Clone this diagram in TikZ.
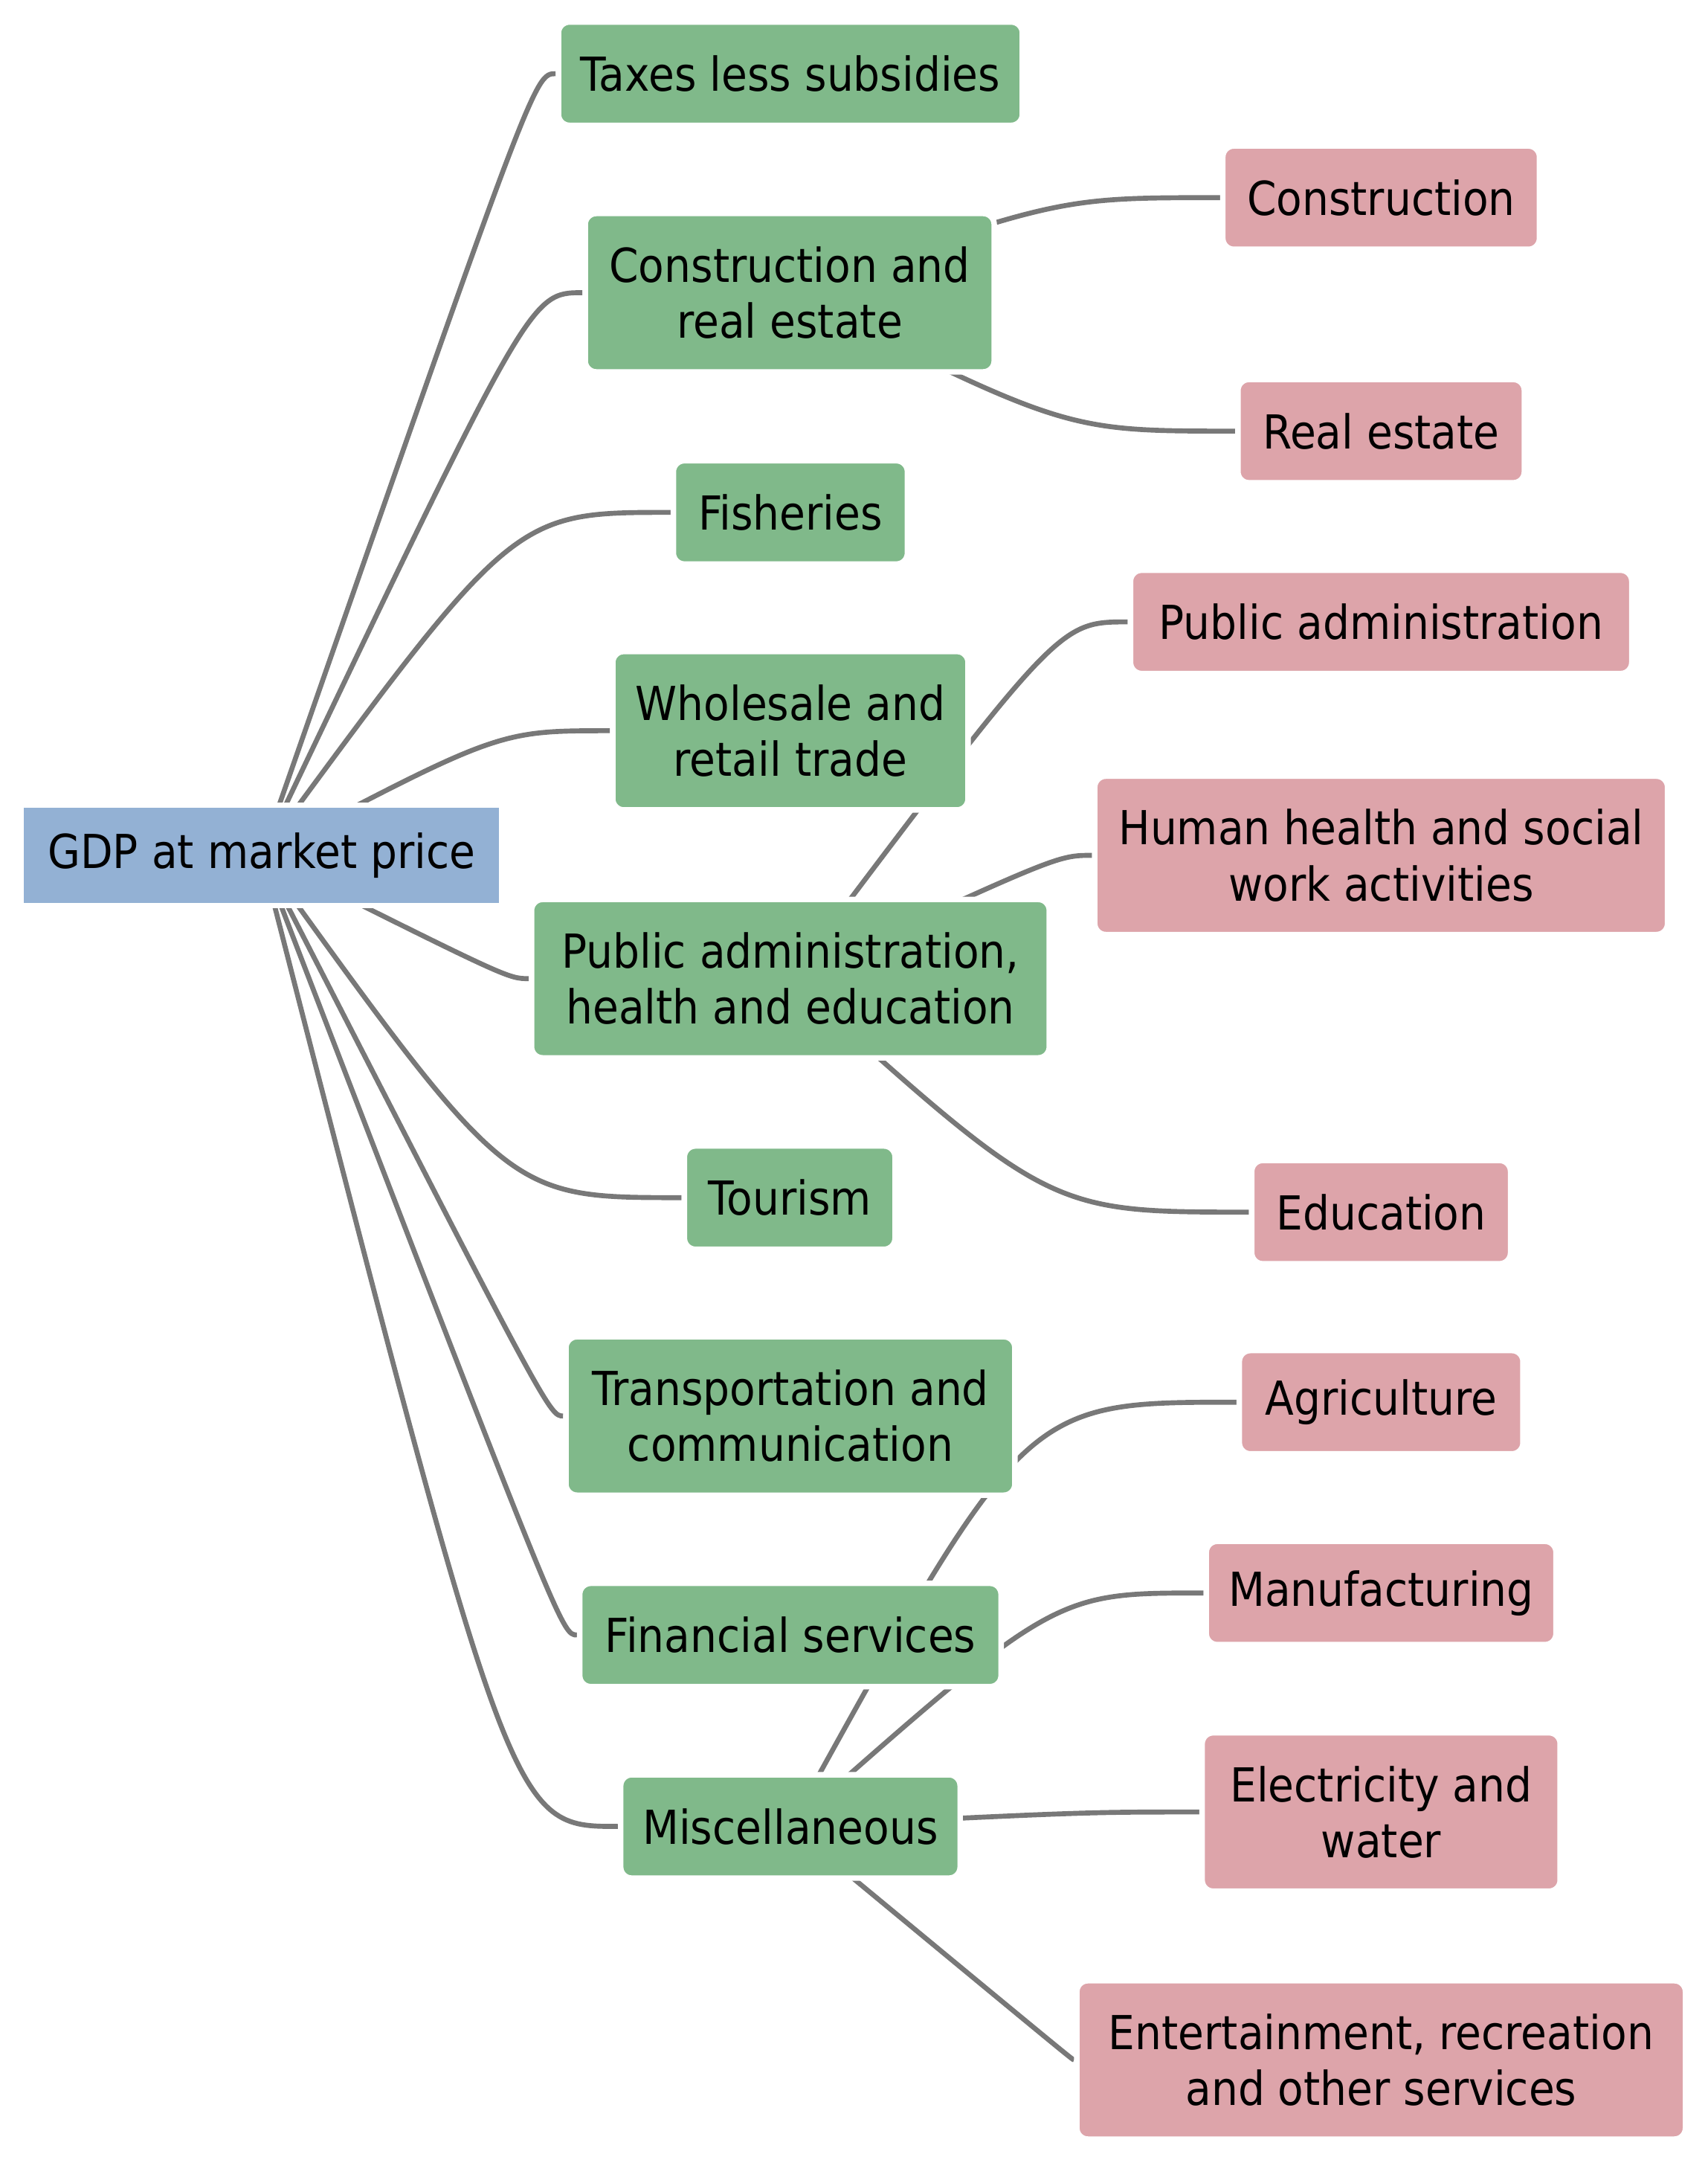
\documentclass[tikz,border=0pt]{standalone}
\usepackage{fontspec}
\setmainfont{DejaVu Sans}[FakeStretch=0.9]
\usepackage{tikz}
\usetikzlibrary{backgrounds}
\definecolor{gdpblue}{RGB}{147,177,212}
\definecolor{catgreen}{RGB}{128,185,138}
\definecolor{subpink}{RGB}{221,164,170}
\definecolor{linkgray}{RGB}{120,120,120}
\tikzset{
    gdpbox/.style={fill=gdpblue, draw=white, line width=2pt, minimum height=36.5pt, inner xsep=8pt},
    catbox/.style={fill=catgreen, draw=white, line width=2pt, rounded corners=4pt, align=center, minimum height=37.5pt, inner xsep=8pt},
    subbox/.style={fill=subpink, draw=white, line width=2pt, rounded corners=4pt, align=center, minimum height=37.5pt, inner xsep=8pt},
    twoline/.style={minimum height=57.5pt},
    link/.style={draw=linkgray, line width=1.8pt}
}

\begin{document}
\begin{tikzpicture}[x=0.5pt, y=-0.5pt, font=\fontsize{17pt}{20.3pt}\selectfont]
    \useasboundingbox (0,0) rectangle (1240,1566);
    \node(gdp)[gdpbox, minimum width=174.5pt] at (190,621) {GDP at market price};

    \node(tax)[catbox, minimum width=167pt] at (574,53.5) {Taxes less subsidies};
    \node(cre)[catbox, twoline, minimum width=148.5pt] at (573.5,212.5) {Construction and\\real estate};
    \node(fish)[catbox, minimum width=85pt] at (574,372) {Fisheries};
    \node(trade)[catbox, twoline, minimum width=129pt] at (574,530.5) {Wholesale and\\retail trade};
    \node(pub)[catbox, twoline, minimum width=188pt] at (574,710.5) {Public administration,\\health and education};
    \node(tour)[catbox, minimum width=76.5pt] at (573.5,869.5) {Tourism};
    \node(trans)[catbox, twoline, minimum width=163pt] at (574,1028) {Transportation and\\communication};
    \node(fin)[catbox, minimum width=153pt] at (574,1187) {Financial services};
    \node(misc)[catbox, minimum width=123pt] at (574,1326) {Miscellaneous};

    \node(con)[subbox, minimum width=115pt] at (1003,143.5) {Construction};
    \node(re)[subbox, minimum width=104pt] at (1003,313) {Real estate};
    \node(pa)[subbox, minimum width=182pt] at (1003,451.5) {Public administration};
    \node(hh)[subbox, twoline, minimum width=208pt] at (1003,621) {Human health and social\\work activities};
    \node(edu)[subbox, minimum width=94pt] at (1003,880) {Education};
    \node(agr)[subbox, minimum width=103pt] at (1003,1018) {Agriculture};
    \node(man)[subbox, minimum width=127pt] at (1003,1156.5) {Manufacturing};
    \node(elw)[subbox, twoline, minimum width=130pt] at (1003,1315.5) {Electricity and\\water};
    \node(ent)[subbox, twoline, minimum width=221pt] at (1003,1495.5) {Entertainment, recreation\\and other services};

    \begin{scope}[on background layer]
    \draw[link] (gdp.center) .. controls (388,53.5) .. (tax.west);
    \draw[link] (gdp.center) .. controls (385,212.5) .. (cre.west);
    \draw[link] (gdp.center) .. controls (373,372) .. (fish.west);
    \draw[link] (gdp.center) .. controls (362,530.5) .. (trade.west);
    \draw[link] (gdp.center) .. controls (369,710.5) .. (pub.west);
    \draw[link] (gdp.center) .. controls (369,869.5) .. (tour.west);
    \draw[link] (gdp.center) .. controls (399,1028) .. (trans.west);
    \draw[link] (gdp.center) .. controls (408,1187) .. (fin.west);
    \draw[link] (gdp.center) .. controls (371,1326) .. (misc.west);

    \draw[link] (cre.center) .. controls (769,143.5) .. (con.west);
    \draw[link] (cre.center) .. controls (774,313) .. (re.west);
    \draw[link] (pub.center) .. controls (769,451.5) .. (pa.west);
    \draw[link] (pub.center) .. controls (768,621) .. (hh.west);
    \draw[link] (pub.center) .. controls (762,880) .. (edu.west);
    \draw[link] (misc.center) .. controls (744,1018) .. (agr.west);
    \draw[link] (misc.center) .. controls (766,1156.5) .. (man.west);
    \draw[link] (misc.center) .. controls (788,1315.5) .. (elw.west);
    \draw[link] (misc.center) .. controls (779,1495.5) .. (ent.west);
    \end{scope}
\end{tikzpicture}
\end{document}
